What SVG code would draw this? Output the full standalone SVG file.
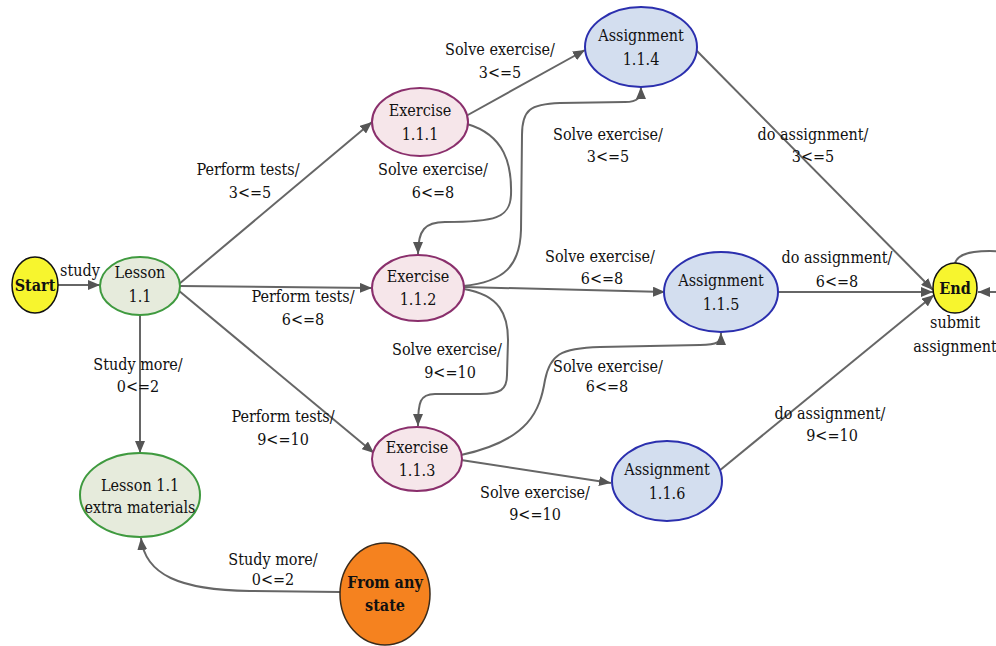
<svg xmlns="http://www.w3.org/2000/svg" width="996" height="646" viewBox="0 0 996 646">
<style>
text{font-family:"DejaVu Serif Condensed","DejaVu Serif",serif;font-size:16px;fill:#111;text-anchor:middle}
.e{stroke:#666;stroke-width:2;fill:none;marker-end:url(#ah)}
.start{fill:#f7f52e;stroke:#111;stroke-width:1.5}
.lesson{fill:#e6ebdc;stroke:#3f9a3f;stroke-width:2}
.ex{fill:#f6e6ea;stroke:#8a2f6c;stroke-width:2}
.as{fill:#d3deef;stroke:#2b2fae;stroke-width:2}
.any{fill:#f5821f;stroke:#3a2a1a;stroke-width:1.5}
.b{font-weight:bold}
</style>
<defs>
<marker id="ah" viewBox="0 0 12 10" refX="12" refY="5" markerWidth="12" markerHeight="10" markerUnits="userSpaceOnUse" orient="auto">
<path d="M0,0 L12,5 L0,10 z" fill="#555"/>
</marker>
</defs>
<rect width="996" height="646" fill="#fff"/>
<g id="connectors">
<path class="e" d="M58,285 L100,285"/>
<path class="e" d="M179,284 L372,122"/>
<path class="e" d="M180,286 L372,288"/>
<path class="e" d="M178,290 L374,453"/>
<path class="e" d="M140,315 L140,453"/>
<path class="e" d="M466,116 L585,50"/>
<path class="e" d="M467,124 C505,135 512,165 511,195 C510,218 495,222 445,222 C425,222 418,230 418,254"/>
<path class="e" d="M463,286 C505,282 520,265 521,230 L522,135 C522,110 530,104 560,103 L625,102 C638,102 641,98 641,87"/>
<path class="e" d="M464,287 L665,292"/>
<path class="e" d="M464,289 C500,295 508,315 508,340 L507,375 C507,390 500,394 480,394 L435,394 C420,394 418,402 418,426"/>
<path class="e" d="M461,455 C530,440 540,410 545,380 C550,355 560,348 600,347 L700,345 C718,345 721,342 721,333"/>
<path class="e" d="M461,460 L611,483"/>
<path class="e" d="M696,50 L933,290"/>
<path class="e" d="M778,292 L933,292"/>
<path class="e" d="M719,471 L934,295"/>
<path class="e" d="M955,264 C957,250 985,250 1010,252 C1030,262 1020,292 1000,292 L978,292"/>
<path class="e" d="M340,592 L250,591 C180,590 145,575 141,538"/>
</g>
<g id="edge-labels">
<text x="80" y="276">study</text>
<text x="248" y="175">Perform tests/</text>
<text x="250" y="198">3&lt;=5</text>
<text x="303" y="302">Perform tests/</text>
<text x="303" y="325">6&lt;=8</text>
<text x="283" y="422">Perform tests/</text>
<text x="283" y="445">9&lt;=10</text>
<text x="138" y="370">Study more/</text>
<text x="138" y="392">0&lt;=2</text>
<text x="500" y="55">Solve exercise/</text>
<text x="500" y="78">3&lt;=5</text>
<text x="433" y="175">Solve exercise/</text>
<text x="433" y="198">6&lt;=8</text>
<text x="608" y="140">Solve exercise/</text>
<text x="608" y="162">3&lt;=5</text>
<text x="600" y="262">Solve exercise/</text>
<text x="602" y="284">6&lt;=8</text>
<text x="447" y="355">Solve exercise/</text>
<text x="450" y="378">9&lt;=10</text>
<text x="608" y="372">Solve exercise/</text>
<text x="607" y="392">6&lt;=8</text>
<text x="535" y="498">Solve exercise/</text>
<text x="535" y="520">9&lt;=10</text>
<text x="813" y="140">do assignment/</text>
<text x="813" y="162">3&lt;=5</text>
<text x="837" y="263">do assignment/</text>
<text x="837" y="287">6&lt;=8</text>
<text x="830" y="419">do assignment/</text>
<text x="832" y="441">9&lt;=10</text>
<text x="955" y="328">submit</text>
<text x="955" y="352">assignment</text>
<text x="273" y="565">Study more/</text>
<text x="273" y="585">0&lt;=2</text>
</g>
<g id="start"><ellipse class="start" cx="35" cy="285" rx="23" ry="28"/><text class="b" x="35" y="291">Start</text></g>
<g id="lesson"><ellipse class="lesson" cx="140" cy="286" rx="40" ry="29"/><text x="140" y="278">Lesson</text><text x="140" y="302">1.1</text></g>
<g id="lesson-extra"><ellipse class="lesson" cx="140" cy="495" rx="60" ry="42"/><text x="140" y="491">Lesson 1.1</text><text x="140" y="513">extra materials</text></g>
<g id="ex111"><ellipse class="ex" cx="420" cy="122" rx="48" ry="34"/><text x="420" y="116">Exercise</text><text x="420" y="140">1.1.1</text></g>
<g id="ex112"><ellipse class="ex" cx="418" cy="288" rx="46" ry="33"/><text x="418" y="282">Exercise</text><text x="418" y="305">1.1.2</text></g>
<g id="ex113"><ellipse class="ex" cx="417" cy="459" rx="45" ry="32"/><text x="417" y="453">Exercise</text><text x="417" y="476">1.1.3</text></g>
<g id="as114"><ellipse class="as" cx="641" cy="47" rx="56" ry="40"/><text x="641" y="41">Assignment</text><text x="641" y="65">1.1.4</text></g>
<g id="as115"><ellipse class="as" cx="721" cy="292" rx="57" ry="40"/><text x="721" y="286">Assignment</text><text x="721" y="310">1.1.5</text></g>
<g id="as116"><ellipse class="as" cx="667" cy="481" rx="55" ry="40"/><text x="667" y="475">Assignment</text><text x="667" y="499">1.1.6</text></g>
<g id="end"><ellipse class="start" cx="955" cy="288" rx="22" ry="25"/><text class="b" x="955" y="294">End</text></g>
<g id="from-any"><ellipse class="any" cx="385" cy="594" rx="45" ry="51"/><text class="b" x="385" y="588">From any</text><text class="b" x="385" y="611">state</text></g>
</svg>
